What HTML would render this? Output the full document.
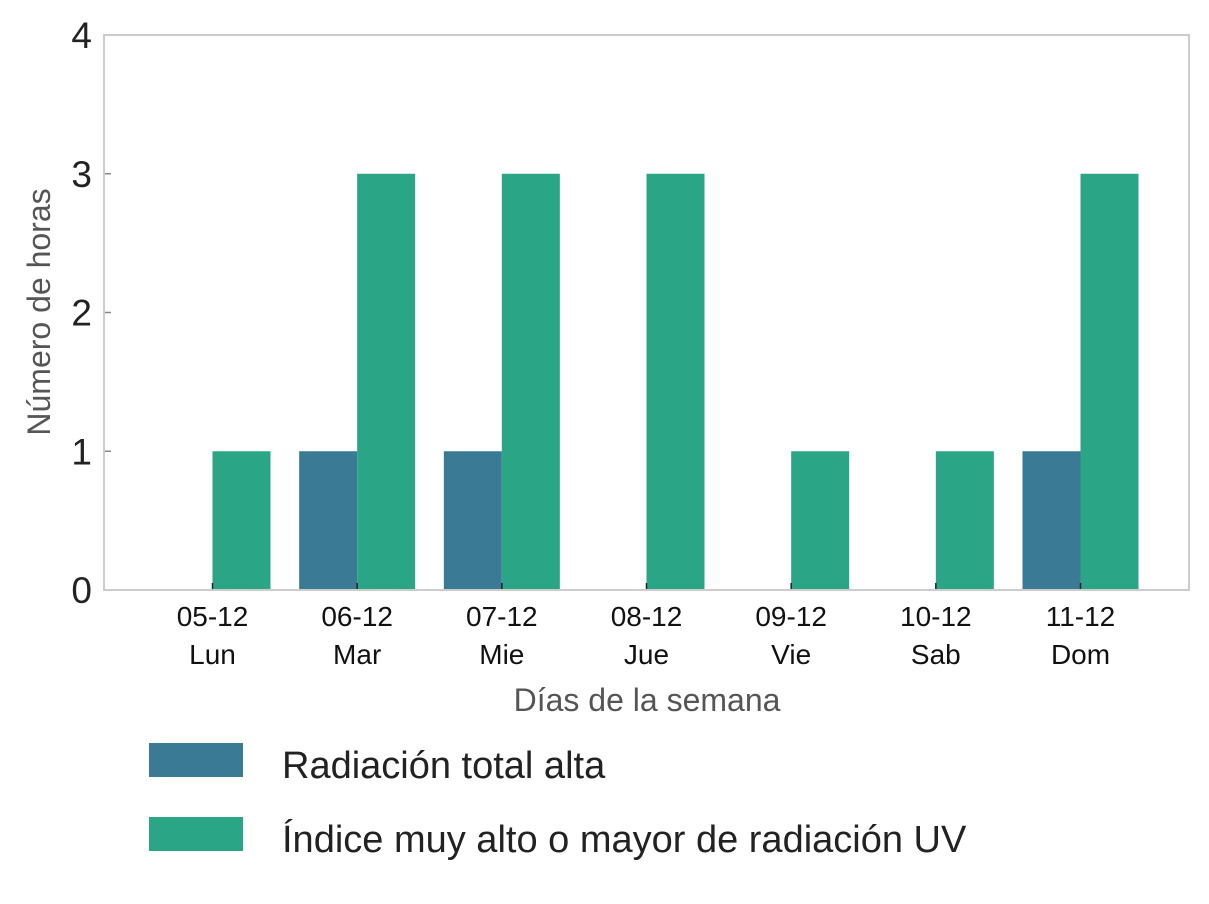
<!DOCTYPE html>
<html><head><meta charset="utf-8"><style>
body{margin:0;background:#fff;}
svg text{font-family:"Liberation Sans",sans-serif;}
</style></head><body>
<svg width="1209" height="899" xmlns="http://www.w3.org/2000/svg">
<g id="plot"></g>
</svg>
<script>
const categories=["05-12","06-12","07-12","08-12","09-12","10-12","11-12"];
const dayLabels=["Lun","Mar","Mie","Jue","Vie","Sab","Dom"];
const radiacionTotal=[0,1,1,0,0,0,1];
const indiceUV=[1,3,3,3,1,1,3];
const yTicks=[0,1,2,3,4];
const L=104,R=1189,T=35,B=590;
const xs=i=>L+(i+0.75)*(R-L)/7.5;
const ys=v=>B-v*(B-T)/4;
const NS="http://www.w3.org/2000/svg";
const g=document.getElementById('plot');
function mk(t,a){const e=document.createElementNS(NS,t);for(const k in a)e.setAttribute(k,a[k]);g.appendChild(e);return e;}
const bw=58;
categories.forEach((c,i)=>{
 if(radiacionTotal[i]>0){const r=mk('rect',{x:xs(i)-bw,y:ys(radiacionTotal[i]),width:bw,height:ys(0)-ys(radiacionTotal[i]),fill:'#3a7a94'});
 
 }
 const r2=mk('rect',{x:xs(i),y:ys(indiceUV[i]),width:bw,height:ys(0)-ys(indiceUV[i]),fill:'#2aa686'});
 
 
 mk('line',{x1:xs(i),x2:xs(i),y1:B-7,y2:B,stroke:'#222','stroke-width':1.5});
 const t=mk('text',{x:xs(i),y:626,'font-size':28,fill:'#111','text-anchor':'middle'});t.textContent=c;
 
 
 const t2=mk('text',{x:xs(i),y:664,'font-size':28,fill:'#111','text-anchor':'middle'});t2.textContent=dayLabels[i];
 
 
});
yTicks.forEach(v=>{
 mk('line',{x1:L,x2:L+7,y1:ys(v),y2:ys(v),stroke:'#888','stroke-width':1.5});
 const t=mk('text',{x:92,y:ys(v)+13,'font-size':37,fill:'#222','text-anchor':'end'});t.textContent=v;
 
 
});
const fr=mk('rect',{x:L,y:T,width:R-L,height:B-T,fill:'none',stroke:'#ccc','stroke-width':2});


const xt=mk('text',{x:647,y:711,'font-size':32,fill:'#555','text-anchor':'middle'});xt.textContent='Días de la semana';


const yt=mk('text',{x:50,y:312,'font-size':32,fill:'#555','text-anchor':'middle',transform:'rotate(-90 50 312)'});yt.textContent='Número de horas';


const l1=mk('rect',{x:149,y:743,width:94,height:34,fill:'#3a7a94'});


const lt1=mk('text',{x:282,y:778,'font-size':38,fill:'#222'});lt1.textContent='Radiación total alta';


const l2=mk('rect',{x:149,y:817,width:94,height:34,fill:'#2aa686'});


const lt2=mk('text',{x:282,y:852,'font-size':38,fill:'#222'});lt2.textContent='Índice muy alto o mayor de radiación UV';


</script>
</body></html>
